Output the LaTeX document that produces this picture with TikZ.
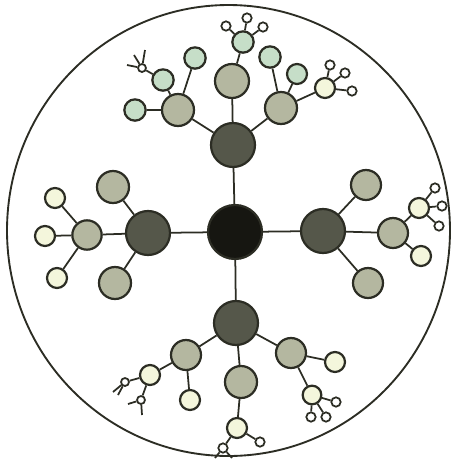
\documentclass[tikz,border=0pt]{standalone}
\usetikzlibrary{calc}
\definecolor{hubblack}{HTML}{161611}
\definecolor{darknode}{HTML}{55574A}
\definecolor{midnode}{HTML}{B4B7A0}
\definecolor{greennode}{HTML}{C6DEC8}
\definecolor{palenode}{HTML}{F4F6DC}
\definecolor{rimline}{HTML}{2C2D24}

\begin{document}
\begin{tikzpicture}[x=0.03cm,y=-0.03cm,
  ball/.style={circle,draw=rimline,line width=1.9pt,inner sep=0pt},
  hub/.style={ball,fill=hubblack,minimum size=1.62cm},
  dark/.style={ball,fill=darknode,minimum size=1.32cm},
  mid/.style={ball,fill=midnode,minimum size=0.96cm},
  greenleaf/.style={ball,fill=greennode,minimum size=0.64cm},
  paleleaf/.style={ball,fill=palenode,minimum size=0.6cm},
  tiny/.style={ball,fill=white,line width=1.5pt,minimum size=0.28cm},
  link/.style={rimline,line width=1.5pt}]
  \useasboundingbox (0,0) rectangle (461,463);
  \draw[rimline,line width=1.6pt] (228.5,230.5) ellipse [x radius=221.5,y radius=225.5];
  % centre and the four arms
  \node[hub] (core) at (235,232) {};
  \node[dark] (ntop) at (233,145) {};
  \node[dark] (nleft) at (148,233) {};
  \node[dark] (nright) at (323,231) {};
  \node[dark] (nbot) at (236,323) {};
  % top arm
  \node[mid] (t1) at (178,110) {};
  \node[mid,minimum size=1.02cm] (t2) at (232,81) {};
  \node[mid] (t3) at (281,108) {};
  \node[greenleaf] (t1a) at (135,110) {};
  \node[greenleaf] (t1b) at (163,80) {};
  \node[greenleaf] (t1c) at (195,58) {};
  \node[tiny,minimum size=0.24cm] (t1b1) at (142,68) {};
  \coordinate (s1) at (127,65);
  \coordinate (s2) at (134,55);
  \coordinate (s3) at (145,50);
  \node[greenleaf] (t2a) at (243,42) {};
  \node[tiny] (t2a1) at (226,26) {};
  \node[tiny] (t2a2) at (247,18) {};
  \node[tiny] (t2a3) at (263,27) {};
  \node[greenleaf] (t3a) at (270,57) {};
  \node[greenleaf,minimum size=0.6cm] (t3b) at (297,74) {};
  \node[paleleaf] (t3c) at (325,88) {};
  \node[tiny] (t3c1) at (330,65) {};
  \node[tiny] (t3c2) at (345,73) {};
  \node[tiny] (t3c3) at (352,91) {};
  % left arm
  \node[mid] (l1) at (113,187) {};
  \node[mid,minimum size=0.88cm] (l2) at (87,235) {};
  \node[mid] (l3) at (115,283) {};
  \node[paleleaf] (l2a) at (55,198) {};
  \node[paleleaf] (l2b) at (45,236) {};
  \node[paleleaf] (l2c) at (57,278) {};
  % right arm
  \node[mid,minimum size=0.9cm] (r1) at (366,185) {};
  \node[mid,minimum size=0.9cm] (r2) at (393,233) {};
  \node[mid,minimum size=0.9cm] (r3) at (368,283) {};
  \node[paleleaf] (r2a) at (419,208) {};
  \node[paleleaf] (r2b) at (421,256) {};
  \node[tiny] (r2a1) at (435,188) {};
  \node[tiny] (r2a2) at (442,206) {};
  \node[tiny] (r2a3) at (439,226) {};
  % bottom arm
  \node[mid,minimum size=0.9cm] (b1) at (186,355) {};
  \node[mid] (b2) at (241,382) {};
  \node[mid,minimum size=0.9cm] (b3) at (291,353) {};
  \node[paleleaf] (b1a) at (150,375) {};
  \node[paleleaf] (b1b) at (190,400) {};
  \node[tiny,minimum size=0.24cm] (b1a1) at (125,382) {};
  \node[tiny,minimum size=0.24cm] (b1a2) at (141,400) {};
  \coordinate (s4) at (113,392);
  \coordinate (s5) at (118,395);
  \coordinate (s6) at (128,404);
  \coordinate (s7) at (142,415);
  \node[paleleaf] (b2a) at (237,428) {};
  \node[tiny] (b2a1) at (223,448) {};
  \node[tiny] (b2a2) at (260,442) {};
  \coordinate (s8) at (215,458);
  \coordinate (s9) at (232,458);
  \node[paleleaf] (b3a) at (335,362) {};
  \node[paleleaf,minimum size=0.56cm] (b3b) at (312,395) {};
  \node[tiny] (b3b1) at (336,402) {};
  \node[tiny] (b3b2) at (311,417) {};
  \node[tiny] (b3b3) at (326,417) {};
  \foreach \a/\b in {core/ntop,core/nleft,core/nright,core/nbot,
      ntop/t1,ntop/t2,ntop/t3,t1/t1a,t1/t1b,t1/t1c,t1b/t1b1,t1b1/s1,t1b1/s2,t1b1/s3,
      t2/t2a,t2a/t2a1,t2a/t2a2,t2a/t2a3,t3/t3a,t3/t3b,t3/t3c,t3c/t3c1,t3c/t3c2,t3c/t3c3,
      nleft/l1,nleft/l2,nleft/l3,l2/l2a,l2/l2b,l2/l2c,
      nright/r1,nright/r2,nright/r3,r2/r2a,r2/r2b,r2a/r2a1,r2a/r2a2,r2a/r2a3,
      nbot/b1,nbot/b2,nbot/b3,b1/b1a,b1/b1b,b1a/b1a1,b1a/b1a2,b1a1/s4,b1a1/s5,b1a2/s6,b1a2/s7,
      b2/b2a,b2a/b2a1,b2a/b2a2,b2a1/s8,b2a1/s9,b3/b3a,b3/b3b,b3b/b3b1,b3b/b3b2,b3b/b3b3}
    \draw[link] (\a) -- (\b);
\end{tikzpicture}
\end{document}
